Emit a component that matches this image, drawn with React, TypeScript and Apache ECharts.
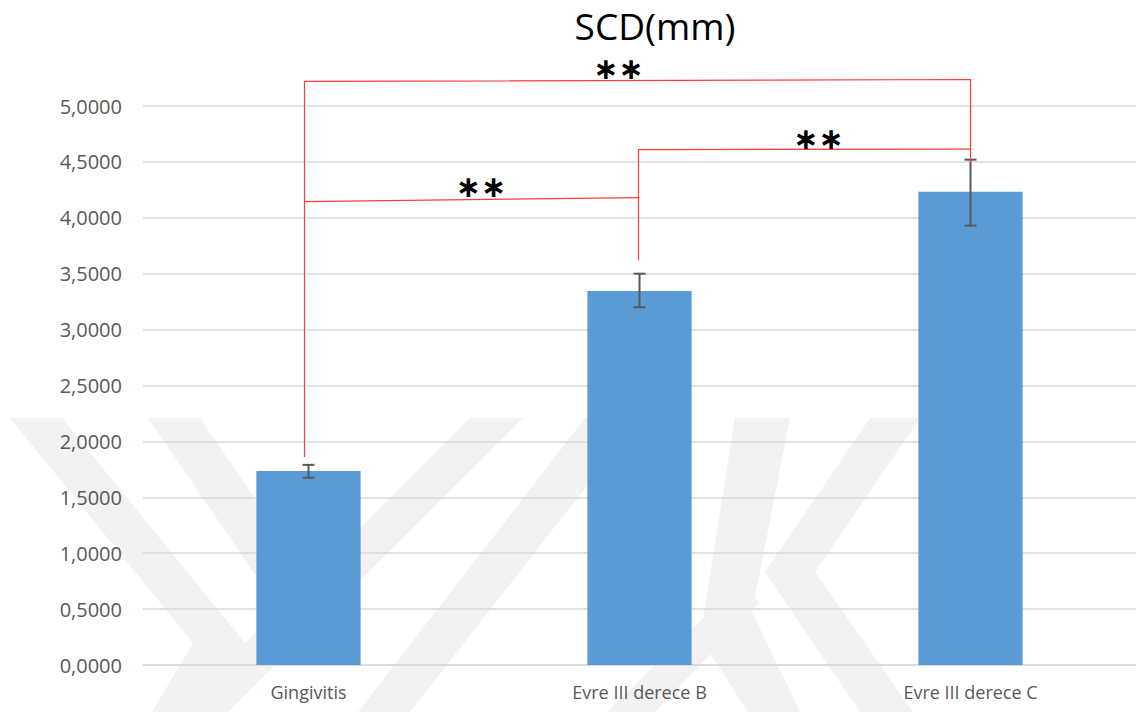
import React, { useEffect, useRef } from "react";
import * as echarts from "echarts";

// Group names, means and error-bar limits (mm)
const categories = ["Gingivitis", "Evre III derece B", "Evre III derece C"];
const means = [1.735, 3.345, 4.232];
const errLow = [1.675, 3.2, 3.93];
const errHigh = [1.79, 3.5, 4.52];

// Value axis
const yMin = 0;
const yMax = 5;
const yStep = 0.5;

// Significance brackets: category indices, bracket heights at each end, and
// where the drop lines end (null = no drop line)
const bracketFrom = [0, 1, 0];
const bracketTo = [2, 2, 1];
const bracketTopLeft = [5.22, 4.61, 4.145];
const bracketTopRight = [5.237, 4.615, 4.18];
const bracketDropLeft = [1.86, 3.62, null];
const bracketDropRight = [4.49, null, null];
const bracketLabels = ["∗∗", "∗∗", "∗∗"];
const bracketLabelShift = [-19, 14, 9];

// Faint background emblem (pixel outlines)
const emblemShapes: number[][][] = [
  [[10, 418], [62, 418], [245, 643], [205, 712], [152, 712], [193, 643]],
  [[148, 418], [200, 418], [345, 630], [293, 630]],
  [[470, 418], [523, 418], [228, 712], [176, 712]],
  [[585, 418], [640, 418], [410, 712], [358, 712]],
  [[735, 418], [790, 418], [752, 612], [800, 712], [748, 712], [700, 638]],
  [[607, 712], [655, 712], [760, 602], [736, 586]],
  [[870, 418], [920, 418], [815, 572], [913, 712], [860, 712], [765, 572]],
];

const fmt = (v: number) => v.toFixed(4).replace(".", ",");

export default function App() {
  const ref = useRef<HTMLDivElement>(null);

  useEffect(() => {
    if (!ref.current) return;
    const chart = echarts.init(ref.current, null, { renderer: "svg" });

    chart.setOption({
      animation: false,
      backgroundColor: "#ffffff",
      title: {
        text: "SCD(mm)",
        left: 655,
        textAlign: "center",
        top: 5,
        padding: 0,
        textStyle: {
          fontFamily: "Open Sans",
          fontSize: 37,
          lineHeight: 40,
          fontWeight: "normal",
          color: "#000000",
        },
      },
      grid: { left: 143, right: 0, top: 106, bottom: 47 },
      xAxis: {
        type: "category",
        data: categories,
        axisLine: { show: true, lineStyle: { color: "#d9d9d9", width: 1.5 } },
        axisTick: { show: false },
        axisLabel: {
          color: "#595959",
          fontFamily: "Open Sans",
          fontSize: 18,
          margin: 18,
        },
      },
      yAxis: {
        type: "value",
        min: yMin,
        max: yMax,
        interval: yStep,
        axisLine: { show: false },
        axisTick: { show: false },
        splitLine: { lineStyle: { color: "#d9d9d9", width: 1.5 } },
        axisLabel: {
          color: "#595959",
          fontFamily: "Open Sans",
          fontSize: 20,
          margin: 21,
          formatter: (v: number) => fmt(v),
        },
      },
      series: [
        {
          type: "bar",
          data: means,
          barWidth: "31.5%",
          itemStyle: { color: "#5b9bd5" },
          z: 3,
        },
        {
          type: "custom",
          z: 5,
          data: categories.map((_, i) => [i, errLow[i], errHigh[i]]),
          renderItem: (_params: any, api: any) => {
            const idx = api.value(0);
            const lo = api.coord([idx, api.value(1)]);
            const hi = api.coord([idx, api.value(2)]);
            const cap = 6;
            const style = { stroke: "#595959", lineWidth: 2 };
            return {
              type: "group",
              children: [
                { type: "line", shape: { x1: lo[0], y1: hi[1], x2: lo[0], y2: lo[1] }, style },
                { type: "line", shape: { x1: lo[0] - cap, y1: hi[1], x2: lo[0] + cap, y2: hi[1] }, style },
                { type: "line", shape: { x1: lo[0] - cap, y1: lo[1], x2: lo[0] + cap, y2: lo[1] }, style },
              ],
            };
          },
        },
      ],
    });

    const px = (cat: number, v: number) =>
      chart.convertToPixel({ xAxisIndex: 0, yAxisIndex: 0 }, [cat, v]) as number[];

    const graphics: any[] = [];

    emblemShapes.forEach((pts) => {
      graphics.push({
        type: "polygon",
        silent: true,
        z: -10,
        shape: { points: pts },
        style: { fill: "#f2f2f2" },
      });
    });

    const red = { stroke: "#ff3b3b", lineWidth: 1.2, fill: "none" };
    bracketFrom.forEach((from, i) => {
      const to = bracketTo[i];
      const a = px(from, bracketTopLeft[i]);
      const b = px(to, bracketTopRight[i]);
      // the drop line over the first group sits a little left of its centre
      const shiftA = from === 0 ? -4 : -1;
      a[0] += shiftA;
      const pts: number[][] = [];
      const dl = bracketDropLeft[i];
      const dr = bracketDropRight[i];
      if (dl !== null) {
        const p = px(from, dl);
        p[0] += shiftA;
        pts.push(p);
      }
      pts.push(a, b);
      if (dr !== null) pts.push(px(to, dr));
      graphics.push({
        type: "polyline",
        silent: true,
        z: 10,
        shape: { points: pts },
        style: red,
      });
      graphics.push({
        type: "text",
        silent: true,
        z: 10,
        x: (a[0] + b[0]) / 2 + bracketLabelShift[i],
        y: Math.min(a[1], b[1]) - 11,
        style: {
          text: bracketLabels[i],
          fontFamily: "DejaVu Sans",
          fontSize: 30,
          fontWeight: "bold",
          fill: "#000000",
          align: "center",
          verticalAlign: "middle",
          letterSpacing: 1,
        },
      });
    });

    chart.setOption({ graphic: graphics });

    return () => chart.dispose();
  }, []);

  return (
    <div
      ref={ref}
      style={{ position: "fixed", left: 0, top: 0, width: 1136, height: 712 }}
    />
  );
}
